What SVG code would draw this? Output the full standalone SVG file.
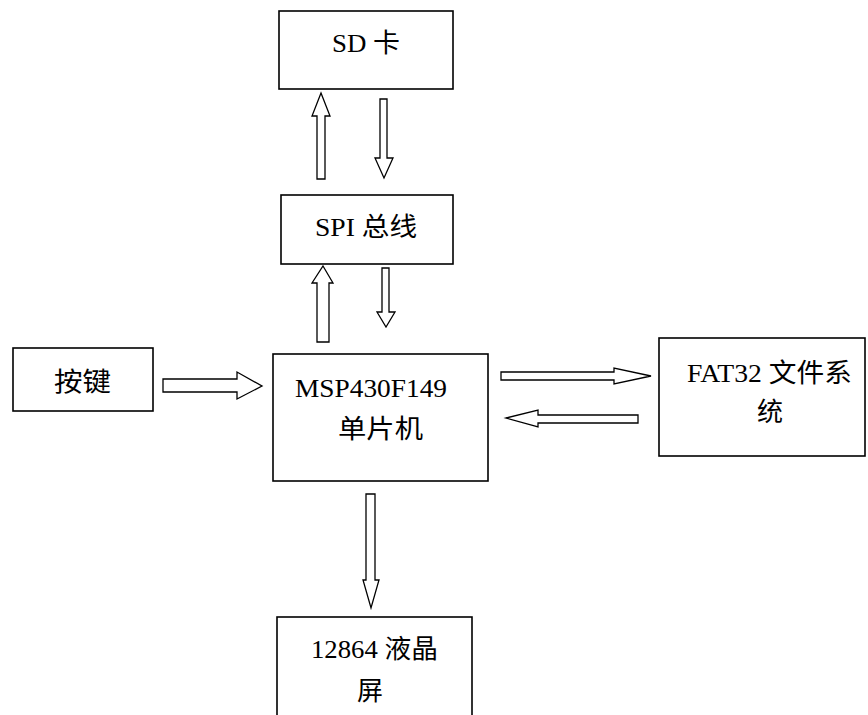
<svg xmlns="http://www.w3.org/2000/svg" width="868" height="715" viewBox="0 0 868 715">
<style>
.box{fill:#fff;stroke:#000;stroke-width:1.6}
.arr{fill:#fff;stroke:#000;stroke-width:1.3;stroke-linejoin:miter}
.t{font-family:"Liberation Serif","Noto Sans CJK SC",serif;font-size:26px;fill:#000}
</style>
<rect width="868" height="715" fill="#fff"/>
<g id="connectors">
<polygon class="arr" points="321,93 330,116 325,116 325,179 317,179 317,116 312,116"/>
<polygon class="arr" points="380,99 387,99 387,158 393,158 384,178 375,158 380,158"/>
<polygon class="arr" points="323,266 333,283 329,283 329,342 317,342 317,283 312,283"/>
<polygon class="arr" points="382,268 389,268 389,312 395,312 386,327 377,312 382,312"/>
<polygon class="arr" points="163,379 237,379 237,372 262,386 237,399 237,392 163,392"/>
<polygon class="arr" points="501,372 614,372 614,368 651,376 614,384 614,380 501,380"/>
<polygon class="arr" points="638,415 538,415 538,410 506,418 538,427 538,423 638,423"/>
<polygon class="arr" points="366,494 375,494 375,580 379,580 371,608 363,580 366,580"/>
</g>
<g id="sd">
<rect class="box" x="279" y="11" width="174" height="78"/>
<text class="t" x="332" y="52" textLength="68" lengthAdjust="spacingAndGlyphs">SD 卡</text>
</g>
<g id="spi">
<rect class="box" x="281" y="195" width="172" height="69"/>
<text class="t" x="315" y="236" textLength="102" lengthAdjust="spacingAndGlyphs">SPI 总线</text>
</g>
<g id="key">
<rect class="box" x="13" y="348" width="140" height="63"/>
<text class="t" x="54" y="391" textLength="57" lengthAdjust="spacingAndGlyphs">按键</text>
</g>
<g id="mcu">
<rect class="box" x="273" y="354" width="215" height="127"/>
<text class="t" x="295" y="397" textLength="152" lengthAdjust="spacingAndGlyphs">MSP430F149</text>
<text class="t" x="338" y="438" textLength="85" lengthAdjust="spacingAndGlyphs">单片机</text>
</g>
<g id="fat">
<rect class="box" x="659" y="338" width="206" height="118"/>
<text class="t" x="687" y="382" textLength="165" lengthAdjust="spacingAndGlyphs">FAT32 文件系</text>
<text class="t" x="770" y="421" text-anchor="middle">统</text>
</g>
<g id="lcd">
<rect class="box" x="277" y="617" width="195" height="120"/>
<text class="t" x="311" y="658" textLength="127" lengthAdjust="spacingAndGlyphs">12864 液晶</text>
<text class="t" x="370" y="700" text-anchor="middle">屏</text>
</g>
</svg>
